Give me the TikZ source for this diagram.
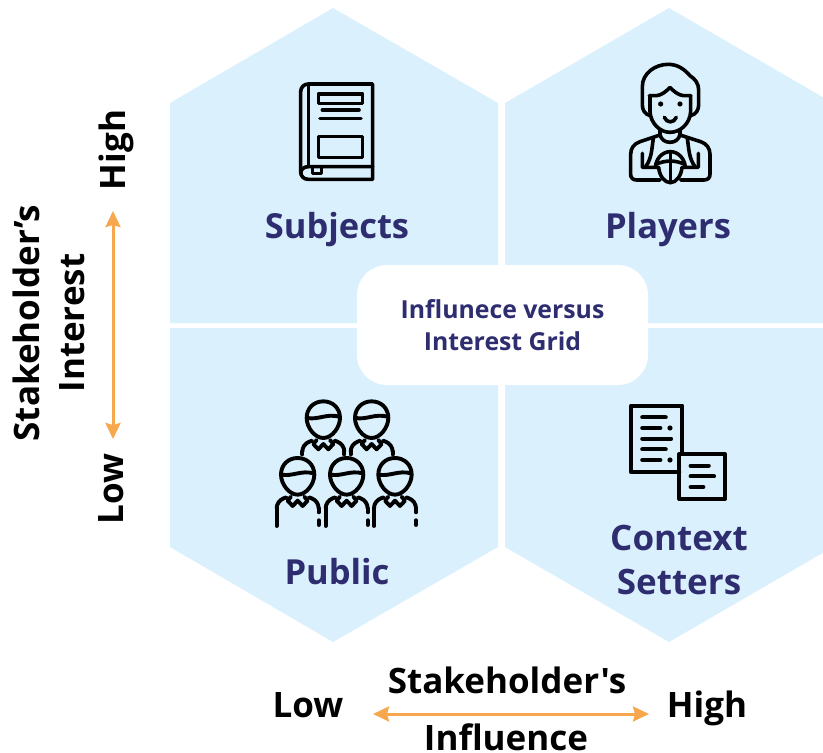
\documentclass[tikz,border=0pt]{standalone}
\usepackage{fontspec}
\usetikzlibrary{arrows.meta}
\setmainfont{Open Sans}
\newfontfamily\straightf{Open Sans}
\definecolor{hexfill}{HTML}{DAF0FD}
\definecolor{navy}{HTML}{2E2D70}
\definecolor{arrowor}{HTML}{F7A84E}
\tikzset{
 hexa/.style={fill=hexfill,draw=none},
 title/.style={text=navy,font=\fontsize{34.5}{40}\selectfont\bfseries,align=center,inner sep=0pt},
 axis/.style={text=black,font=\fontsize{35}{40}\selectfont\bfseries,align=center,inner sep=0pt},
 orarrow/.style={draw=arrowor,line width=3pt,{Stealth[length=16pt,width=15pt,inset=2pt]}-{Stealth[length=16pt,width=15pt,inset=2pt]}},
 ico/.style={draw=black,line width=3.6pt,line cap=round,line join=round},
 pers/.style={draw=black,line width=3.9pt,line cap=round,line join=round},
 person/.pic={
  \draw[pers] (-50,-6) .. controls (-50,-36) and (-28,-56) .. (0,-56) .. controls (28,-56) and (50,-36) .. (50,-6) .. controls (50,22) and (26,54) .. (0,54) .. controls (-26,54) and (-50,22) .. (-50,-6);
  \draw[pers] (-48,-6) .. controls (-15,0) and (10,-20) .. (48,-10);
  \draw[pers] (-20,60)--(-30,72)--(-15,88)--(0,72)--(15,88)--(30,72)--(20,60);
  \draw[pers] (-34,62)--(-42,65) .. controls (-55,70) and (-63,82) .. (-63,95);
  \draw[pers] (34,62)--(42,65) .. controls (55,70) and (63,82) .. (63,95);
 }
}
\begin{document}
\begin{tikzpicture}[x=1pt,y=-1pt]
\useasboundingbox (0,0) rectangle (823,753);
\begin{scope}
\clip (0,0) rectangle (823,753);
\fill[hexa] (333,8)--(498,103)--(498,323)--(170,323)--(170,103)--cycle;
\fill[hexa] (669,8)--(833,103)--(833,323)--(505,323)--(505,103)--cycle;
\fill[hexa] (170,328)--(498,328)--(498,547)--(333,642)--(170,547)--cycle;
\fill[hexa] (505,328)--(833,328)--(833,547)--(669,642)--(505,547)--cycle;
\end{scope}
\node[fill=white,rounded corners=30pt,minimum width=291pt,minimum height=120pt,inner sep=0pt,
  text=navy,font=\fontsize{24.8}{32}\selectfont\bfseries,align=center] (grid) at (502.5,325) {Influnece versus\\Interest Grid};
\node[title] (subjects) at (337,230) {Subjects};
\node[title] (players) at (668,230) {Players};
\node[title] (public) at (337,572) {Public};
\node[title,font=\fontsize{35}{44}\selectfont\bfseries] (context) at (679,560) {Context\\Setters};
% axes
\node[axis] (lowx) at (308,705) {Low};
\node[axis] (highx) at (707,708) {High};
\node[axis,font=\fontsize{35}{40}\selectfont\straightf\bfseries] (infl1) at (507,680) {Stakeholder's};
\node[axis,anchor=base,text depth=0pt] (infl2) at (506,750) {Influence};
\node[axis,rotate=90] (highy) at (116,150) {High};
\node[axis,rotate=90] (lowy) at (111,489) {Low};
\node[axis,rotate=90] (int1) at (26,323) {Stakeholder's};
\node[axis,rotate=90] (int2) at (72,323) {Interest};
\coordinate (xa) at (373,714); \coordinate (xb) at (649,714);
\coordinate (ya) at (113,211); \coordinate (yb) at (113,439);
\draw[orarrow] (xa)--(xb);
\draw[orarrow] (ya)--(yb);
% book
\begin{scope}[shift={(280,70)},x=0.3333pt,y=-0.3333pt]
\draw[ico] (85,42)--(278,42)--(278,328)--(85,328) .. controls (70,328) and (62,318) .. (62,305) -- (62,65) .. controls (62,52) and (72,42) .. (85,42);
\draw[ico] (85,42)--(85,290);
\draw[ico] (62,310) .. controls (62,298) and (72,290) .. (85,290) -- (278,290);
\draw[ico] (97,292)--(97,310)--(125,310)--(125,292);
\draw[ico] (115,72) rectangle (248,100);
\draw[ico] (127,120)--(237,120);
\draw[ico] (120,145)--(243,145);
\draw[ico] (115,200) rectangle (248,263);
\end{scope}
% player
\begin{scope}[shift={(610,55)},x=0.3333pt,y=-0.3333pt]
\draw[ico] (120,182) .. controls (105,178) and (97,165) .. (97,150) -- (97,95) .. controls (97,55) and (135,28) .. (175,28) .. controls (205,28) and (225,45) .. (240,62) .. controls (255,72) and (266,85) .. (266,105) -- (266,150) .. controls (266,165) and (258,178) .. (242,182);
\draw[ico] (118,122)--(140,122) .. controls (155,120) and (168,110) .. (180,97) .. controls (192,110) and (205,120) .. (220,122)--(242,122);
\draw[ico] (120,122)--(120,170) .. controls (122,205) and (150,232) .. (180,232) .. controls (212,232) and (240,205) .. (242,170)--(242,122);
\fill (152,147) circle (2.6pt);
\fill (210,147) circle (2.6pt);
\draw[ico] (163,187) .. controls (170,205) and (192,205) .. (199,187);
\draw[ico] (150,225)--(150,238) .. controls (155,270) and (205,270) .. (210,238)--(210,225);
\draw[ico] (150,240)--(90,260) .. controls (72,266) and (62,280) .. (62,298)--(62,358) .. controls (62,368) and (68,375) .. (80,375)--(150,375);
\draw[ico] (210,240)--(272,260) .. controls (290,266) and (300,280) .. (300,298)--(300,358) .. controls (300,368) and (294,375) .. (282,375)--(212,375);
\draw[ico] (130,250) .. controls (125,285) and (125,310) .. (107,335);
\draw[ico] (232,250) .. controls (237,285) and (237,310) .. (255,335);
\draw[ico] (97,295)--(97,337)--(146,337) .. controls (148,362) and (163,383) .. (181,383) .. controls (199,383) and (214,362) .. (216,337)--(265,337)--(265,295);
\draw[ico] (136,337) .. controls (138,310) and (158,290) .. (181,290) .. controls (204,290) and (224,310) .. (226,337);
\draw[ico] (181,290)--(181,383);
\draw[ico] (138,328) .. controls (165,315) and (197,315) .. (224,328);
\end{scope}
% public
\begin{scope}[shift={(265,395)},x=0.3333pt,y=-0.3333pt]
\pic at (175,75) {person};
\pic at (320,75) {person};
\draw[pers] (112,170)--(112,178);
\draw[pers] (238,170)--(238,178);
\draw[pers] (257,170)--(257,178);
\draw[pers] (383,170)--(383,178);
\foreach \c in {98,245,390}{
 \pic at (\c,245) {person};
 \draw[pers] (\c-63,340)--(\c-63,393);
 \draw[pers] (\c+63,340)--(\c+63,352);
 \draw[pers] (\c+63,376)--(\c+63,390);
}
\end{scope}
% documents
\begin{scope}[shift={(620,395)},x=0.3333pt,y=-0.3333pt]
\draw[ico,line width=4pt] (178,232)--(33,232)--(33,32)--(187,32)--(187,177);
\draw[ico,line width=4pt] (178,177) rectangle (315,312);
\draw[ico,line width=4.2pt] (67,67)--(137,67);
\draw[ico,line width=4.2pt] (67,99)--(121,99);
\fill (150,99) circle (2.6pt);
\draw[ico,line width=4.2pt] (67,131)--(153,131);
\draw[ico,line width=4.2pt] (67,163)--(137,163);
\draw[ico,line width=4.2pt] (67,195)--(121,195);
\fill (150,195) circle (2.6pt);
\draw[ico,line width=4.2pt] (212,212)--(266,212);
\draw[ico,line width=4.2pt] (212,244)--(282,244);
\draw[ico,line width=4.2pt] (212,276)--(250,276);
\end{scope}
\end{tikzpicture}
\end{document}
